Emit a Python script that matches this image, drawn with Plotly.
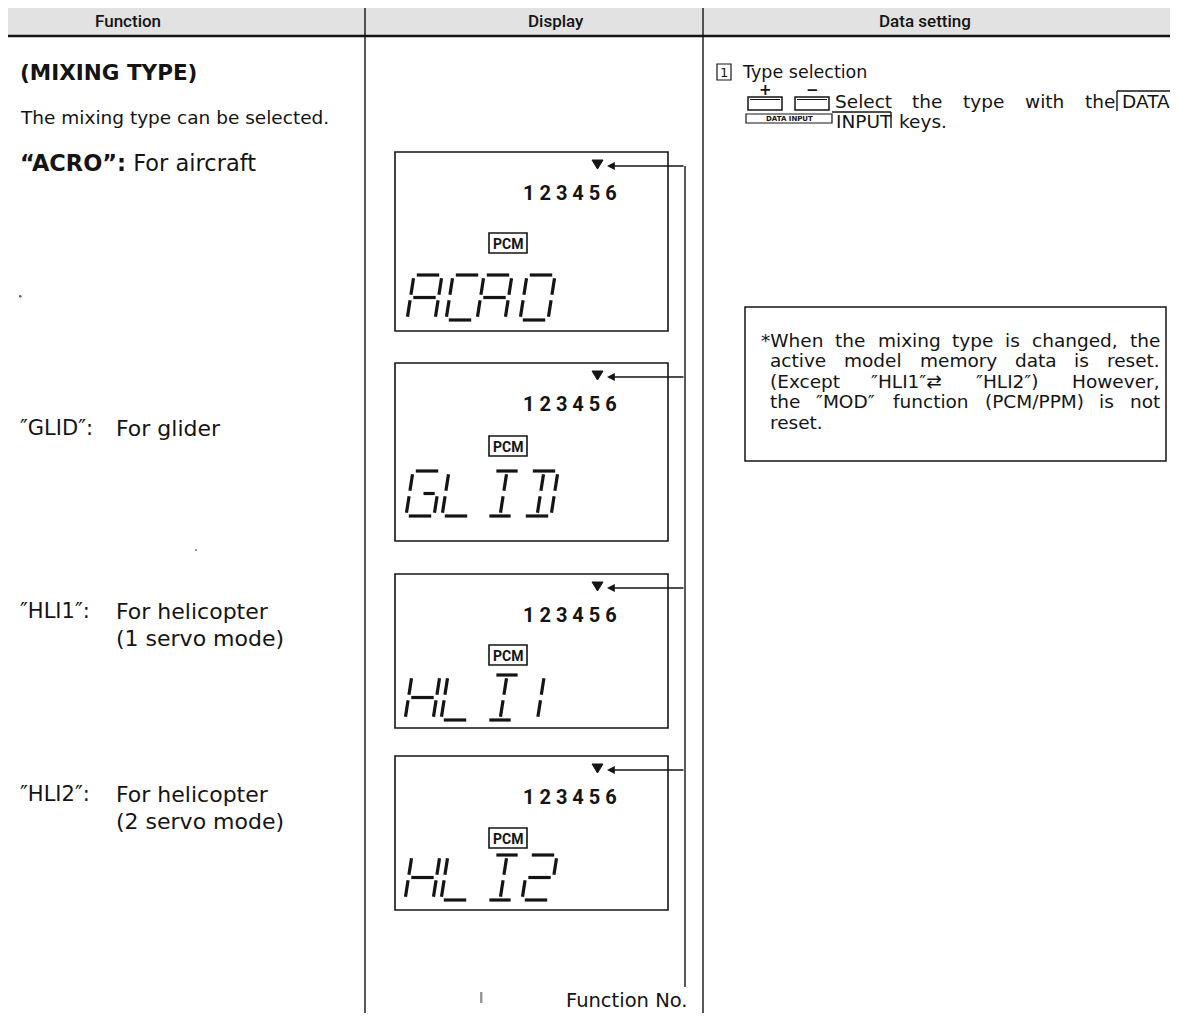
import plotly.graph_objects as go

# page is offset by the 8px body margin; axes map directly to page pixels
PAGE_W, PAGE_H = 1178, 1021
OFF = 8
W, H = PAGE_W - OFF, PAGE_H - 2 * OFF

# ---------------- content ----------------
HEADERS = ["Function", "Display", "Data setting"]
HEADER_X = [128, 556, 925]
COL_DIV = [365, 703]

MODES = ["ACRO", "GLID", "HLI1", "HLI2"]
MODE_DESC = ["For aircraft", "For glider", "For helicopter", "For helicopter"]
MODE_SUB = ["", "", "(1 servo mode)", "(2 servo mode)"]
LABEL_Y = [163, 428, 611, 794]

BOX_TOP = [152, 363, 574, 756]
BOX_BOT = [331, 541, 728, 910]
PCM_Y = [243, 446, 655, 838]
GLYPH_BOT = [320, 516, 720, 900]
DIGITS = "1 2 3 4 5 6"

GLYPH_X = {
    "ACRO": [407, 446, 477, 520],
    "GLID": [406, 442, 486, 523],
    "HLI1": [405, 441, 486, 522],
    "HLI2": [405, 441, 486, 522],
}

NOTE_LINES = [
    "*When the mixing type is changed, the",
    "active model memory data is reset.",
    "(Except \u2033HLI1\u2033\u21c4 \u2033HLI2\u2033) However,",
    "the \u2033MOD\u2033 function (PCM/PPM) is not",
    "reset.",
]
NOTE_JUSTIFY = [True, True, True, True, False]

# 7-segment geometry (u across, v up)
SEG = {
    "a": ((0.10, 1.0), (0.90, 1.0)),
    "b": ((1.0, 0.93), (1.0, 0.56)),
    "c": ((1.0, 0.44), (1.0, 0.07)),
    "d": ((0.10, 0.0), (0.90, 0.0)),
    "e": ((0.0, 0.07), (0.0, 0.44)),
    "f": ((0.0, 0.56), (0.0, 0.93)),
    "g": ((0.10, 0.5), (0.90, 0.5)),
    "gr": ((0.50, 0.5), (0.90, 0.5)),
    "i1": ((0.5, 0.93), (0.5, 0.56)),
    "i2": ((0.5, 0.44), (0.5, 0.07)),
    "ia": ((0.12, 1.0), (0.88, 1.0)),
    "id": ((0.12, 0.0), (0.88, 0.0)),
    "o1": ((0.55, 0.93), (0.55, 0.56)),
    "o2": ((0.55, 0.44), (0.55, 0.07)),
}
GLYPHS = {
    "A": ["a", "b", "c", "e", "f", "g"],
    "C": ["a", "d", "e", "f"],
    "R": ["a", "b", "c", "e", "f", "g"],
    "O": ["a", "b", "c", "d", "e", "f"],
    "G": ["a", "c", "d", "e", "f", "gr"],
    "L": ["d", "e", "f"],
    "I": ["ia", "id", "i1", "i2"],
    "D": ["a", "d", "i1", "i2", "b", "c"],
    "H": ["b", "c", "e", "f", "g"],
    "1": ["o1", "o2"],
    "2": ["a", "b", "g", "e", "d"],
}
GW, GH, SLANT = 28, 45, 7

FONT = "DejaVu Sans"
INK = "#141414"

# approximate DejaVu Sans advance widths (em) for justification
CW = {' ': .318, '(': .390, ')': .390, '*': .500, ',': .318, '.': .318, '/': .337,
      '1': .636, '2': .636, ':': .337, '\u2033': .46, '\u21c4': .838,
      'A': .684, 'C': .698, 'D': .770, 'E': .632, 'H': .752, 'I': .295, 'L': .557,
      'M': .863, 'O': .787, 'P': .603, 'S': .635, 'W': .989,
      'a': .613, 'b': .635, 'c': .550, 'd': .635, 'e': .615, 'f': .352, 'g': .635,
      'h': .634, 'i': .278, 'k': .579, 'l': .278, 'm': .974, 'n': .634, 'o': .612,
      'p': .635, 'r': .411, 's': .521, 't': .392, 'u': .634, 'v': .592, 'w': .818,
      'x': .592, 'y': .592}

fig = go.Figure()
shapes = []
ann = []


def line(x0, y0, x1, y1, w=1.4, c=INK):
    shapes.append(dict(type="line", xref="x", yref="y", x0=x0, y0=y0, x1=x1, y1=y1,
                       line=dict(color=c, width=w)))


def rect(x0, y0, x1, y1, w=1.4, c=INK, fill=None):
    d = dict(type="rect", xref="x", yref="y", x0=x0, y0=y0, x1=x1, y1=y1,
             line=dict(color=c, width=w))
    if fill:
        d["fillcolor"] = fill
    shapes.append(d)


def text(x, y, s, size=16, anchor="left", bold=False, family=FONT, color=INK, weight=None):
    f = dict(family=family, size=size, color=color)
    if weight:
        f["weight"] = weight
    ann.append(dict(x=x, y=y, xref="x", yref="y", text=("<b>%s</b>" % s) if bold else s,
                    showarrow=False, xanchor=anchor, yanchor="middle", font=f))


def justify(x0, x1, y, s, size):
    words = s.split(" ")
    widths = [sum(CW.get(ch, .6) for ch in wd) * size for wd in words]
    gap = (x1 - x0 - sum(widths)) / max(len(words) - 1, 1)
    x = x0
    for wd, wdw in zip(words, widths):
        text(x, y, wd, size=size)
        x += wdw + gap


# ---------------- header ----------------
rect(OFF, 5, PAGE_W, 36, w=0, fill="#e2e2e2")
line(OFF, 5, PAGE_W, 5, w=1.5, c="#555")
line(OFF, 36, PAGE_W, 36, w=2.6, c=INK)
for cx in COL_DIV:
    line(cx, 5, cx, PAGE_H, w=1.4)
for hx, ht in zip(HEADER_X, HEADERS):
    text(hx, 20.5, ht, size=17, anchor="center", family="Roboto", weight=500)

# ---------------- function column ----------------
text(18, 72, "(MIXING TYPE)", size=21.5, bold=True)
text(18, 117, "The mixing type can be selected.", size=18.5)
for i, m in enumerate(MODES):
    y = LABEL_Y[i]
    if i == 0:
        text(18, y, "<b>\u201c%s\u201d:</b> %s" % (m, MODE_DESC[i]), size=22.5)
    else:
        text(18, y, "\u2033%s\u2033:" % m, size=21)
        text(114, y, MODE_DESC[i], size=22)
    if MODE_SUB[i]:
        text(114, y + 27, MODE_SUB[i], size=22)
# small scan specks visible on the page
shapes.append(dict(type="circle", xref="x", yref="y", x0=19, y0=295, x1=21.5, y1=297.5,
                   fillcolor="#555", line=dict(width=0)))
shapes.append(dict(type="circle", xref="x", yref="y", x0=195, y0=549, x1=197, y1=551,
                   fillcolor="#777", line=dict(width=0)))

# ---------------- display column ----------------
CONN_X = 685
for i, m in enumerate(MODES):
    T, B = BOX_TOP[i], BOX_BOT[i]
    rect(395, T, 668, B, w=1.6)
    ay = T + 13
    shapes.append(dict(type="path", xref="x", yref="y",
                       path="M %d %d L %d %d L %.1f %d Z" % (592, ay - 5, 603, ay - 5, 597.5, ay + 4),
                       fillcolor=INK, line=dict(color=INK, width=1)))
    ann.append(dict(x=607, y=ay + 1, ax=CONN_X, ay=ay + 1, xref="x", yref="y", axref="x",
                    ayref="y", text="", showarrow=True, arrowhead=2, arrowsize=1.2,
                    arrowwidth=1.3, arrowcolor=INK))
    text(570, T + 41, "<b>%s</b>" % DIGITS, size=20, anchor="center", family="Roboto")
    pc = PCM_Y[i]
    rect(489, pc - 10, 527, pc + 10, w=1.6)
    text(508, pc + 0.5, "<b>PCM</b>", size=14, anchor="center", family="Roboto")
    ybot = GLYPH_BOT[i]
    for gx, ch in zip(GLYPH_X[m], m):
        for sname in GLYPHS[ch]:
            (u0, v0), (u1, v1) = SEG[sname]
            x0 = gx + u0 * GW + SLANT * v0
            x1 = gx + u1 * GW + SLANT * v1
            y0 = ybot - v0 * GH
            y1 = ybot - v1 * GH
            line(x0, y0, x1, y1, w=3.2)

line(CONN_X, BOX_TOP[0] + 14, CONN_X, 987, w=1.4)
text(690, 1000, "Function No.", size=19.5, anchor="right")
shapes.append(dict(type="rect", xref="x", yref="y", x0=480, y0=992, x1=482.5, y1=1003,
                   fillcolor="#999", line=dict(width=0)))

# ---------------- data setting column ----------------
rect(717, 64, 731, 80, w=1.2)
text(724, 72.5, "1", size=13, anchor="center")
text(740, 72, "Type selection", size=17.5)

for bx, sym in zip([748, 795], ["+", "\u2212"]):
    rect(bx, 97, bx + 34, 110, w=1.5)
    line(bx + 2, 99.5, bx + 32, 99.5, w=1)
    text(bx + 17, 90, "<b>%s</b>" % sym, size=15, anchor="center")
rect(746, 114, 832, 123, w=1.2)
text(789, 118.5, "<b>DATA INPUT</b>", size=7, anchor="center")
justify(833, 1113, 101, "Select the type with the", 18.5)
text(1120, 101, "DATA", size=18.5)
line(1117, 91, 1173, 91)
line(1117, 91, 1117, 111)
line(1173, 91, 1173, 111)
line(832, 112, 891, 112)
line(891, 112, 891, 128)
text(834, 121, "INPUT", size=18.5)
text(897, 121, "keys.", size=18.5)

rect(745, 307, 1166, 461, w=1.5)
for k, (s, jf) in enumerate(zip(NOTE_LINES, NOTE_JUSTIFY)):
    x0 = 759 if k == 0 else 768
    y = 340 + 20.5 * k
    if jf:
        justify(x0, 1158, y, s, 18.5)
    else:
        text(x0, y, s, size=18.5)

fig.update_layout(
    width=W, height=H, margin=dict(l=0, r=0, t=0, b=0),
    paper_bgcolor="white", plot_bgcolor="white", showlegend=False,
    xaxis=dict(range=[OFF, PAGE_W], visible=False, fixedrange=True),
    yaxis=dict(range=[PAGE_H - OFF, OFF], visible=False, fixedrange=True),
    shapes=shapes, annotations=ann,
)
fig.write_html("out.html")
